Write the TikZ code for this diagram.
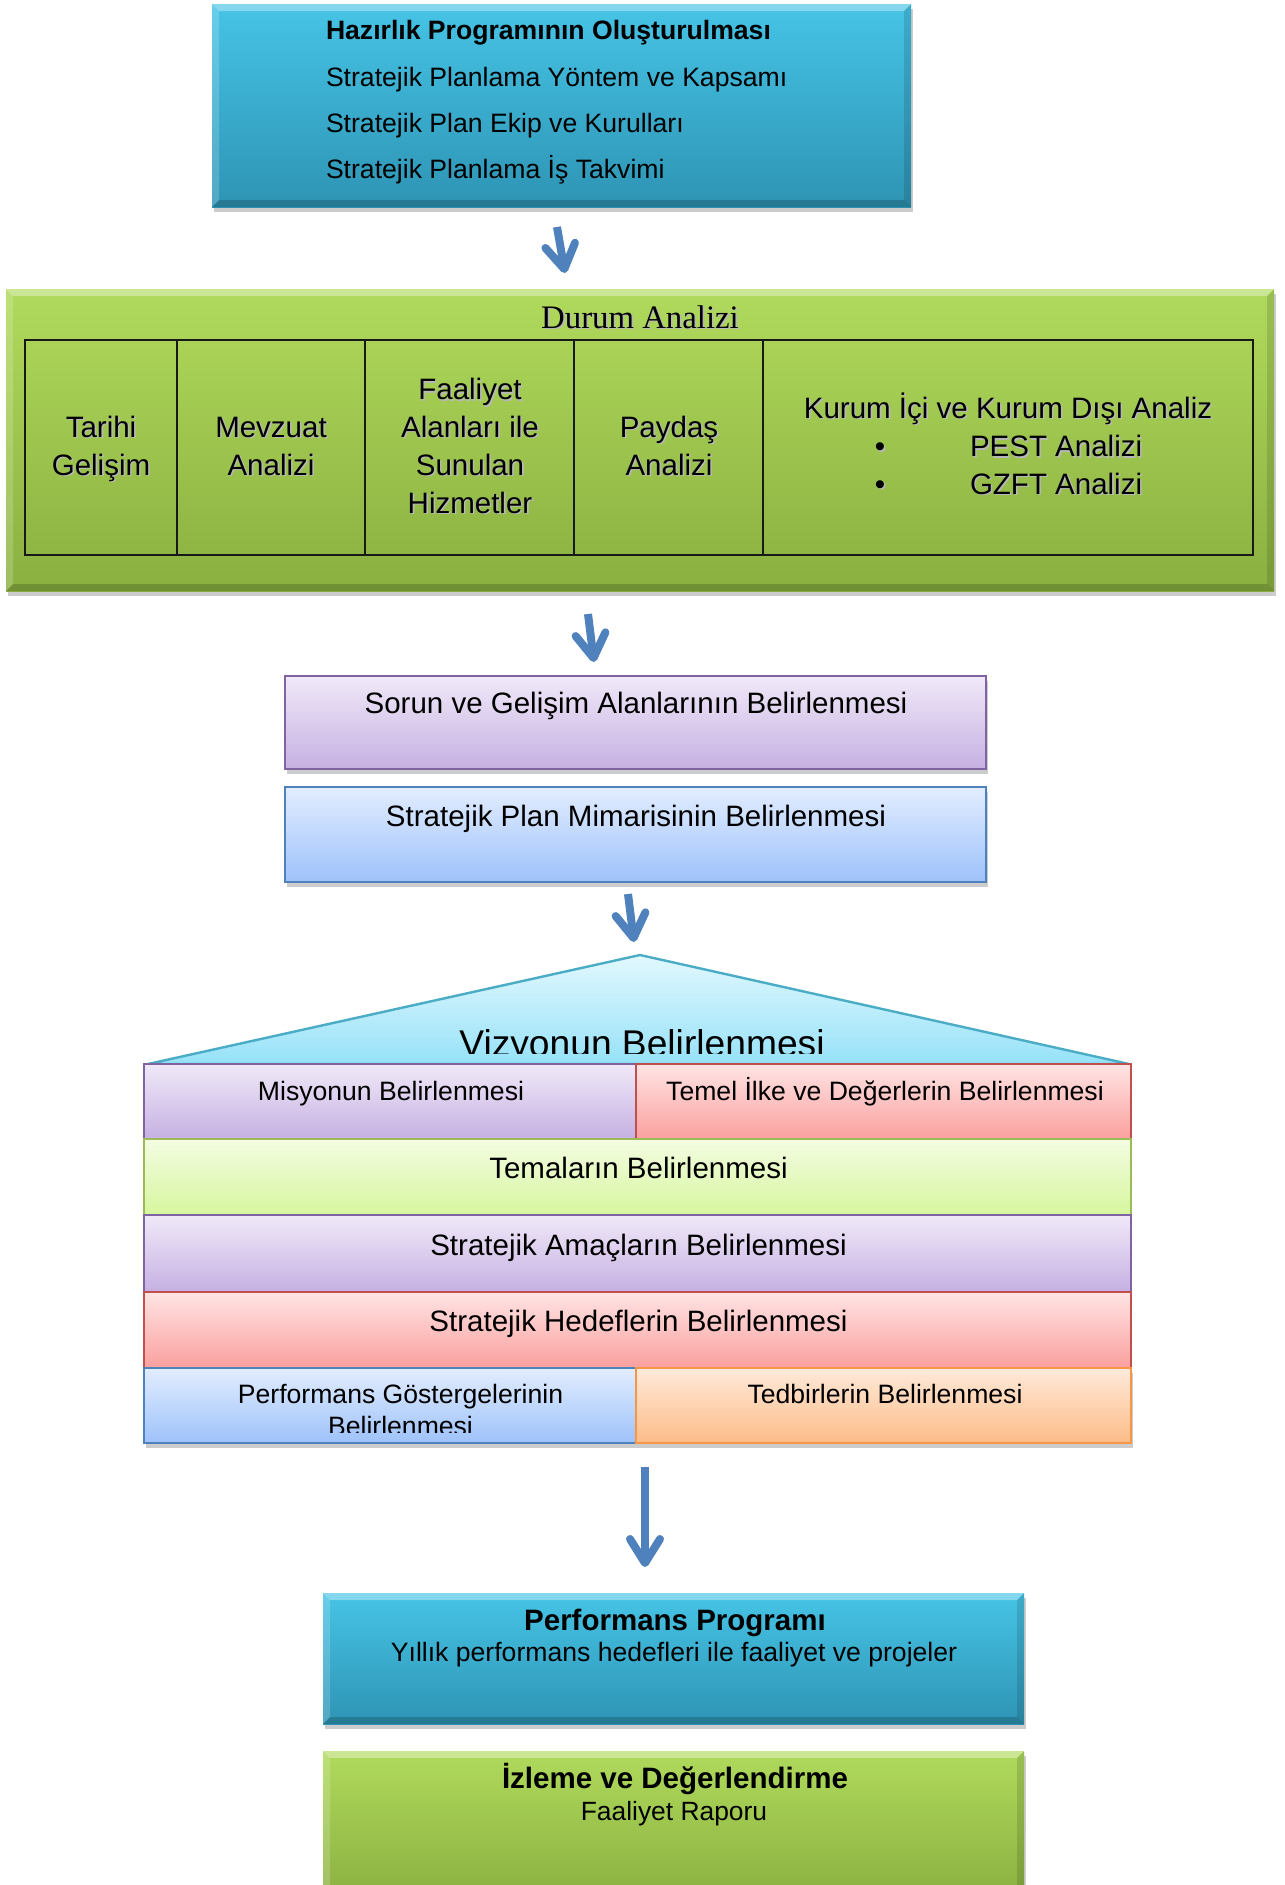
\documentclass[tikz,border=0pt]{standalone}
\usepackage{fontspec}
\setmainfont{Liberation Sans}
\newfontfamily\titleserif{Liberation Serif}
\usetikzlibrary{arrows.meta,shadows,calc,fit}

\definecolor{cyT}{RGB}{70,196,230}
\definecolor{cyB}{RGB}{46,148,180}
\definecolor{grT}{RGB}{176,218,92}
\definecolor{grB}{RGB}{138,176,64}
\definecolor{puT}{RGB}{240,233,248}
\definecolor{puB}{RGB}{198,176,226}
\definecolor{puL}{RGB}{128,100,162}
\definecolor{blT}{RGB}{226,237,255}
\definecolor{blB}{RGB}{158,194,250}
\definecolor{blL}{RGB}{79,129,189}
\definecolor{rfT}{RGB}{226,248,254}
\definecolor{rfB}{RGB}{150,226,248}
\definecolor{rfL}{RGB}{75,172,198}
\definecolor{rdT}{RGB}{255,228,228}
\definecolor{rdB}{RGB}{250,160,158}
\definecolor{rdL}{RGB}{192,80,77}
\definecolor{lgT}{RGB}{244,252,226}
\definecolor{lgB}{RGB}{214,246,158}
\definecolor{lgL}{RGB}{155,187,89}
\definecolor{orT}{RGB}{255,234,218}
\definecolor{orB}{RGB}{252,188,136}
\definecolor{orL}{RGB}{247,150,70}
\definecolor{arrowblue}{RGB}{79,129,189}

\newcommand\szA{\fontsize{13.3}{16}\selectfont}
\newcommand\szB{\fontsize{14.75}{18}\selectfont}
\newcommand\szP{\fontsize{13.3}{16}\selectfont}
\newcommand\szF{\fontsize{13.2}{16}\selectfont}
\newcommand\szT{\fontsize{16.4}{19}\selectfont}
\newcommand\szV{\fontsize{18.6}{22}\selectfont}
\newcommand\shtx[1]{\makebox[0pt][l]{\kern0.8pt\raisebox{-0.8pt}{\textcolor{black!28}{#1}}}#1}

\newcommand\bevelize[1]{%
  \fill[white,opacity=0.35] (#1.north west) -- (#1.north east) -- ($(#1.north east)+(-7,7)$) -- ($(#1.north west)+(7,7)$) -- cycle;
  \fill[white,opacity=0.18] (#1.north west) -- ($(#1.north west)+(7,7)$) -- ($(#1.south west)+(7,-7)$) -- (#1.south west) -- cycle;
  \fill[black,opacity=0.12] (#1.north east) -- ($(#1.north east)+(-7,7)$) -- ($(#1.south east)+(-7,-7)$) -- (#1.south east) -- cycle;
  \fill[black,opacity=0.18] (#1.south west) -- ($(#1.south west)+(7,-7)$) -- ($(#1.south east)+(-7,-7)$) -- (#1.south east) -- cycle;
}

\tikzset{
  x=0.5pt, y=-0.5pt,
  every node/.style={inner sep=0pt, outer sep=0pt},
  area/.style={fit={#1}, inner sep=0pt, outer sep=0pt},
  softshadow/.style={drop shadow={shadow xshift=1pt, shadow yshift=-2.5pt, opacity=0.2, fill=black}},
  cyanbox/.style={top color=cyT, bottom color=cyB, softshadow},
  greenbox/.style={top color=grT, bottom color=grB, softshadow},
  pbox/.style={top color=#1T, bottom color=#1B, draw=#1L, line width=1.2pt},
  cell/.style={draw=black!90, line width=1pt},
  arr/.style={draw=arrowblue, line width=4pt, -{Straight Barb[length=12pt, width=15pt, round]}},
  lbl/.style={anchor=base, text=black},
}

\begin{document}
\begin{tikzpicture}
\useasboundingbox (0,0) rectangle (1285,1885);
\fill[white] (0,0) rectangle (1285,1885);

% ---- top box
\node[cyanbox, area={(212,4) (911,207)}] (top) {};
\bevelize{top}
\node[anchor=base west, font=\bfseries\szA] (h1) at (326,39.5) {Hazırlık Programının Oluşturulması};
\node[anchor=base west, font=\szA] (h2) at (326,86) {Stratejik Planlama Yöntem ve Kapsamı};
\node[anchor=base west, font=\szA] (h3) at (326,132) {Stratejik Plan Ekip ve Kurulları};
\node[anchor=base west, font=\szA] (h4) at (326,178) {Stratejik Planlama İş Takvimi};

\coordinate (a1s) at (557,227);
\coordinate (a1e) at (565,273);
\draw[arr] (a1s) -- (a1e);

% ---- Durum Analizi
\node[greenbox, area={(6,289) (1274,591)}] (durum) {};
\bevelize{durum}
\node[lbl, font=\titleserif\szT] (dtitle) at (640,328) {\shtx{Durum Analizi}};
\node[cell, area={(25,340) (176.5,555)}] (c1) {};
\node[cell, area={(176.5,340) (365,555)}] (c2) {};
\node[cell, area={(365,340) (574,555)}] (c3) {};
\node[cell, area={(574,340) (763,555)}] (c4) {};
\node[cell, area={(763,340) (1253,555)}] (c5) {};

\node[lbl, font=\szB] (c1a) at (101,437) {\shtx{Tarihi}};
\node[lbl, font=\szB] (c1b) at (101,475) {\shtx{Gelişim}};
\node[lbl, font=\szB] (c2a) at (271,437) {\shtx{Mevzuat}};
\node[lbl, font=\szB] (c2b) at (271,475) {\shtx{Analizi}};
\node[lbl, font=\szB] (c3a) at (470,399.5) {\shtx{Faaliyet}};
\node[lbl, font=\szB] (c3b) at (470,437) {\shtx{Alanları ile}};
\node[lbl, font=\szB] (c3c) at (470,475) {\shtx{Sunulan}};
\node[lbl, font=\szB] (c3d) at (470,513) {\shtx{Hizmetler}};
\node[lbl, font=\szB] (c4a) at (669,437) {\shtx{Paydaş}};
\node[lbl, font=\szB] (c4b) at (669,475) {\shtx{Analizi}};
\node[lbl, font=\szB] (c5a) at (1008,418) {\shtx{Kurum İçi ve Kurum Dışı Analiz}};
\node[lbl, font=\szB] (b1) at (880,456.5) {\shtx{•}};
\node[lbl, font=\szB] (b2) at (880,494) {\shtx{•}};
\node[anchor=base west, font=\szB] (c5b) at (970,456.5) {\shtx{PEST Analizi}};
\node[anchor=base west, font=\szB] (c5c) at (970,494) {\shtx{GZFT Analizi}};

\coordinate (a2s) at (588,614);
\coordinate (a2e) at (594,662);
\draw[arr] (a2s) -- (a2e);

% ---- Sorun / Mimari
\node[pbox=pu, softshadow, area={(285,676) (986,769)}] (sorun) {};
\node[lbl, font=\szB] (sorunT) at (636,713) {Sorun ve Gelişim Alanlarının Belirlenmesi};
\node[pbox=bl, softshadow, area={(285,787) (986,882)}] (mimari) {};
\node[lbl, font=\szB] (mimariT) at (636,826) {Stratejik Plan Mimarisinin Belirlenmesi};

\coordinate (a3s) at (628,894);
\coordinate (a3e) at (634,942);
\draw[arr] (a3s) -- (a3e);

% ---- house
\filldraw[top color=rfT, bottom color=rfB, draw=rfL, line width=1.2pt, line join=round]
  (148,1064) -- (640,955) -- (1129,1064) -- cycle;
\begin{scope}
  \clip (0,900) rectangle (1285,1053);
  \node[lbl, font=\szV] (vis) at (642,1056) {Vizyonun Belirlenmesi};
\end{scope}

\node[pbox=pu, area={(144,1064) (636,1139)}] (misyon) {};
\node[pbox=rd, area={(636,1064) (1131,1139)}] (temel) {};
\node[lbl, font=\szA] (misyonT) at (391,1100) {Misyonun Belirlenmesi};
\node[lbl, font=\szA] (temelT) at (885,1100) {Temel İlke ve Değerlerin Belirlenmesi};

\node[pbox=lg, area={(144,1139) (1131,1215)}] (tema) {};
\node[lbl, font=\szB] (temaT) at (638.5,1178) {Temaların Belirlenmesi};

\node[pbox=pu, area={(144,1215) (1131,1292)}] (amac) {};
\node[lbl, font=\szB] (amacT) at (638.5,1255) {Stratejik Amaçların Belirlenmesi};

\node[pbox=rd, area={(144,1292) (1131,1368)}] (hedef) {};
\node[lbl, font=\szB] (hedefT) at (638.5,1331) {Stratejik Hedeflerin Belirlenmesi};

\node[pbox=bl, softshadow, area={(144,1368) (636,1443)}] (perfg) {};
\node[pbox=or, softshadow, area={(636,1368) (1131,1443)}] (tedbir) {};
\begin{scope}
  \clip (144,1368) rectangle (636,1432);
  \node[lbl, font=\szA] (perfgT1) at (400.5,1403) {Performans Göstergelerinin};
  \node[lbl, font=\szA] (perfgT2) at (400.5,1435) {Belirlenmesi};
\end{scope}
\node[lbl, font=\szA] (tedbirT) at (885,1403) {Tedbirlerin Belirlenmesi};

\coordinate (a4s) at (645,1467);
\coordinate (a4e) at (645,1567);
\draw[arr] (a4s) -- (a4e);

% ---- Performans Programi
\node[cyanbox, area={(323,1593) (1024,1724)}] (pp) {};
\bevelize{pp}
\node[lbl, font=\bfseries\szB] (ppT1) at (675,1630.5) {Performans Programı};
\node[lbl, font=\szP] (ppT2) at (674,1661.5) {Yıllık performans hedefleri ile faaliyet ve projeler};

% ---- Izleme
\node[greenbox, area={(323,1751) (1024,1900)}] (iz) {};
\bevelize{iz}
\node[lbl, font=\bfseries\szB] (izT1) at (675,1788.5) {İzleme ve Değerlendirme};
\node[lbl, font=\szF] (izT2) at (674,1820) {Faaliyet Raporu};
\end{tikzpicture}
\end{document}
